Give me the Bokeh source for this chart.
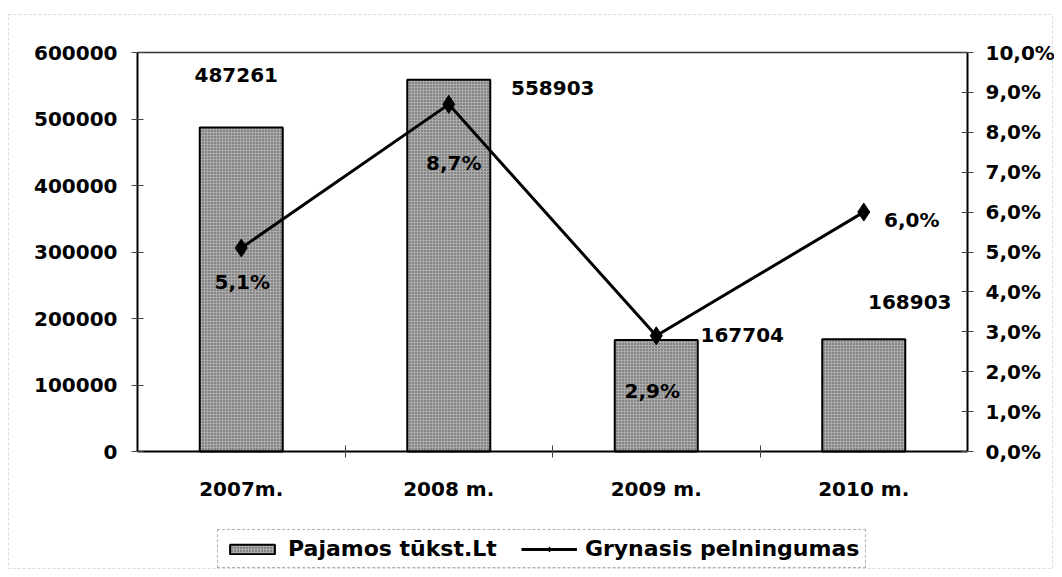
from bokeh.plotting import figure
from bokeh.models import (Range1d, LinearAxis, FixedTicker, Legend, BoxAnnotation,
                          LegendItem, ColumnDataSource)
from bokeh.core.properties import value
from bokeh.embed import file_html
from bokeh.resources import INLINE

# ---- data ----
years = ["2007m.", "2008 m.", "2009 m.", "2010 m."]
revenue = [487261, 558903, 167704, 168903]
profit_pct = [5.1, 8.7, 2.9, 6.0]
revenue_labels = ["487261", "558903", "167704", "168903"]
pct_labels = ["5,1%", "8,7%", "2,9%", "6,0%"]
left_ticks = [0, 100000, 200000, 300000, 400000, 500000, 600000]
left_tick_labels = ["0", "100000", "200000", "300000", "400000", "500000", "600000"]
right_ticks = [0, 1, 2, 3, 4, 5, 6, 7, 8, 9, 10]
right_tick_labels = ["0,0%", "1,0%", "2,0%", "3,0%", "4,0%", "5,0%", "6,0%",
                     "7,0%", "8,0%", "9,0%", "10,0%"]
series_names = ["Pajamos tūkst.Lt", "Grynasis pelningumas"]

# ---- label placement (pixels) ----
rev_dx = [-5, 104, 86, 46]
rev_dy = [-52, 8, -5, -37]
pct_dx = [1, 5, -4, 48]
pct_dy = [34, 59, 55, 8]

# ---- layout (canvas pixels) ----
W, H = 1054, 569
PL, PR, PT, PB = 137, 967, 52, 451   # plot area edges
FONT = "DejaVu Sans"
FS = "20px"

n = len(years)
ppx = (PR - PL) / n                           # pixels per category
y0, y1 = left_ticks[0], left_ticks[-1]
r0, r1 = right_ticks[0], right_ticks[-1]
ppy = (PB - PT) / (y1 - y0)
ppr = (PB - PT) / (r1 - r0)

def px2x(px):
    return (px - PL) / ppx

def px2y(py):
    return y0 + (PB - py) / ppy

xr = Range1d(px2x(0), px2x(W))
yr = Range1d(px2y(H), px2y(0))
pr = Range1d(r0 - (H - PB) / ppr, r1 + PT / ppr)

xs = [i + 0.5 for i in range(n)]
src = ColumnDataSource(dict(x=xs, rev=revenue, pct=profit_pct,
                            rev_lab=revenue_labels, pct_lab=pct_labels,
                            rdx=rev_dx, rdy=rev_dy, pdx=pct_dx, pdy=pct_dy))

p = figure(width=W, height=H, x_range=xr, y_range=yr,
           output_backend="svg", toolbar_location=None, min_border=0)
p.extra_y_ranges = {"pct": pr}
p.grid.visible = False
p.background_fill_color = "white"
p.border_fill_color = "white"
p.outline_line_color = None

# x axis
xa = p.xaxis[0]
xa.fixed_location = y0
xa.bounds = (0, n)
xa.ticker = FixedTicker(ticks=xs, minor_ticks=list(range(1, n)))
xa.major_label_overrides = {x: y for x, y in zip(xs, years)}
xa.major_tick_in = 0
xa.major_tick_out = 0
xa.minor_tick_in = 6
xa.minor_tick_out = 6
xa.minor_tick_line_color = "#444444"
xa.axis_line_color = "black"
xa.axis_line_width = 2
xa.major_label_standoff = 19

# left axis
ya = p.yaxis[0]
ya.fixed_location = 0
ya.bounds = (y0, y1)
ya.ticker = FixedTicker(ticks=left_ticks)
ya.major_label_overrides = dict(zip(left_ticks, left_tick_labels))
ya.minor_tick_line_color = None
ya.major_tick_in = 6
ya.major_tick_out = 6
ya.major_tick_line_color = "#444444"
ya.axis_line_color = "black"
ya.axis_line_width = 2
ya.major_label_standoff = 14

# right axis
ra = LinearAxis(y_range_name="pct", ticker=FixedTicker(ticks=right_ticks),
                major_label_overrides=dict(zip(right_ticks, right_tick_labels)),
                fixed_location=n, bounds=(r0, r1))
ra.minor_tick_line_color = None
ra.major_tick_in = 6
ra.major_tick_out = 6
ra.major_tick_line_color = "#444444"
ra.axis_line_color = "black"
ra.axis_line_width = 2
ra.major_label_standoff = 12
p.add_layout(ra, "right")

for ax in [xa, ya, ra]:
    ax.major_label_text_font = FONT
    ax.major_label_text_font_style = "bold"
    ax.major_label_text_font_size = FS
    ax.major_label_text_color = "black"

# top border of the plot area
p.segment(x0=[0], y0=[y1], x1=[n], y1=[y1], line_color="#333333", line_width=1.5)

# bars
bars = p.vbar(x="x", top="rev", width=0.4, source=src,
              fill_color="#ababab", line_color="black", line_width=2,
              hatch_pattern="dot", hatch_color="#2a2a2a", hatch_scale=3,
              hatch_alpha=0.75, hatch_weight=1)

# line
ln = p.line(x="x", y="pct", source=src, y_range_name="pct",
            line_color="black", line_width=3)
mk = p.scatter(x="x", y="pct", source=src, y_range_name="pct",
               marker="diamond", size=18, fill_color="black", line_color="black")

# labels
p.text(x="x", y="rev", text="rev_lab", source=src, x_offset="rdx", y_offset="rdy",
       text_align="center", text_baseline="middle", text_font=value(FONT),
       text_font_style="bold", text_font_size=FS, text_color="black")
p.text(x="x", y="pct", text="pct_lab", source=src, y_range_name="pct",
       x_offset="pdx", y_offset="pdy",
       text_align="center", text_baseline="middle", text_font=value(FONT),
       text_font_style="bold", text_font_size=FS, text_color="black")

# outer chart border
p.add_layout(BoxAnnotation(left=px2x(8), right=px2x(W - 2), top=px2y(14),
                           bottom=px2y(H - 1), fill_alpha=0,
                           line_color="#888888", line_dash="3 2", line_width=1))

# legend
legend = Legend(items=[LegendItem(label=series_names[0], renderers=[bars]),
                       LegendItem(label=series_names[1], renderers=[ln, mk])],
                orientation="horizontal", location=(217, 1),
                border_line_color="#666666", border_line_dash="3 2",
                border_line_width=1, background_fill_color="white",
                label_text_font=FONT, label_text_font_style="bold",
                label_text_font_size="22px", label_text_color="black",
                glyph_width=56, glyph_height=12, padding=6, spacing=24,
                label_standoff=8, margin=0)
p.add_layout(legend, "center")

open("out.html", "w").write(file_html(p, INLINE))
